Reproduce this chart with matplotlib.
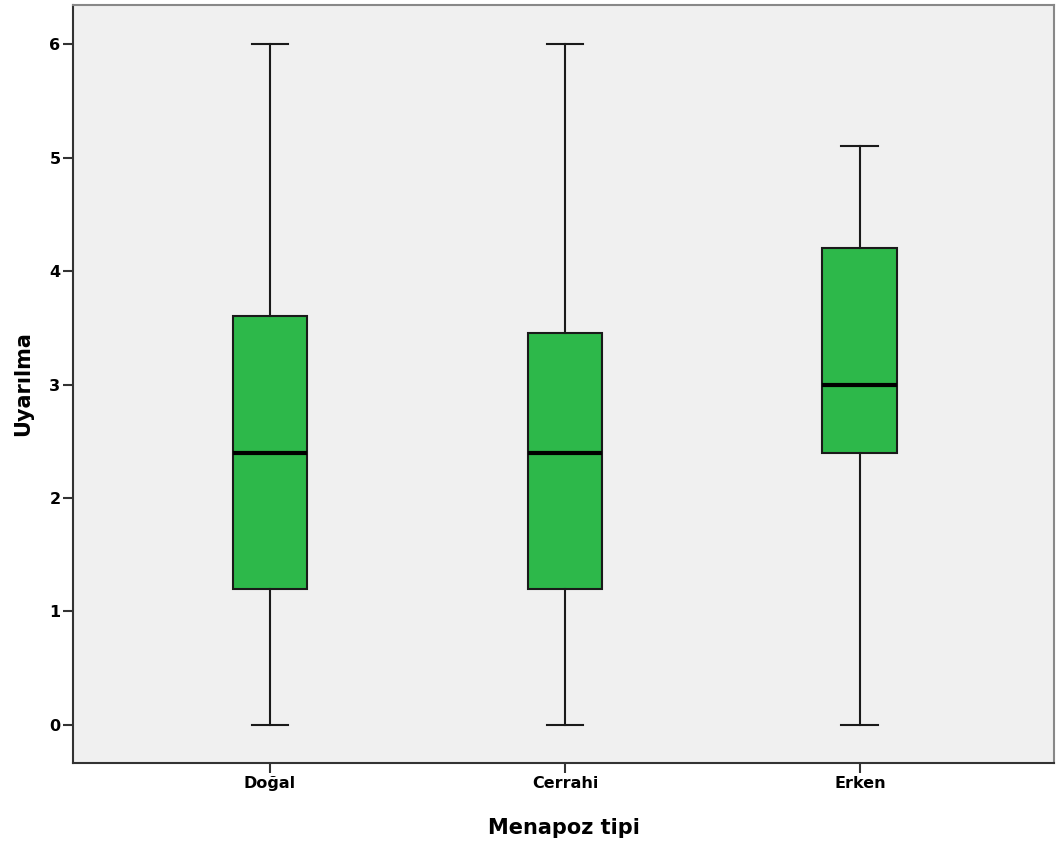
import matplotlib
matplotlib.use("Agg")
import matplotlib.pyplot as plt

categories = ["Doğal", "Cerrahi", "Erken"]
whislo = [0.0, 0.0, 0.0]
q1 = [1.2, 1.2, 2.4]
med = [2.4, 2.4, 3.0]
q3 = [3.6, 3.45, 4.2]
whishi = [6.0, 6.0, 5.1]
yticks = [0, 1, 2, 3, 4, 5, 6]

plt.rcParams['font.family'] = ['DejaVu Sans']

fig = plt.figure(figsize=(10.57, 8.46), dpi=100)
ax = fig.add_axes([73/1057, 83/846, (1054-73)/1057, (763-5)/846])
ax.set_facecolor('#f0f0f0')

stats = [dict(label=c, whislo=a, q1=b, med=m, q3=d, whishi=e, fliers=[])
         for c, a, b, m, d, e in zip(categories, whislo, q1, med, q3, whishi)]
ax.bxp(stats, positions=range(len(categories)), widths=0.254, patch_artist=True,
       showfliers=False,
       boxprops=dict(facecolor='#2db84a', edgecolor='#1a1a1a', linewidth=1.5),
       medianprops=dict(color='black', linewidth=3),
       whiskerprops=dict(color='#1a1a1a', linewidth=1.5),
       capprops=dict(color='#1a1a1a', linewidth=1.5),
       capwidths=0.125)

ax.set_xlim(-0.668, 2.658)
ax.set_ylim(-0.335, 6.344)
ax.set_yticks(yticks)
ax.set_yticklabels([str(t) for t in yticks])
ax.set_xticks(range(len(categories)))
ax.set_xticklabels(categories)
for lab in ax.get_xticklabels() + ax.get_yticklabels():
    lab.set_fontweight('bold')
    lab.set_fontsize(11.5)
ax.tick_params(axis='both', direction='out', length=7, width=1.5, color='#333333', pad=2)

ax.set_ylabel('Uyarılma', fontsize=15, fontweight='bold')
ax.set_xlabel('Menapoz tipi', fontsize=15, fontweight='bold')
ax.yaxis.set_label_coords(-0.041, 0.5)
ax.xaxis.set_label_coords(0.5, -0.073)

for side in ['left', 'bottom']:
    ax.spines[side].set_color('#333333')
    ax.spines[side].set_linewidth(1.5)
for side in ['top', 'right']:
    ax.spines[side].set_color('#888888')
    ax.spines[side].set_linewidth(1.5)

fig.savefig('out.png', dpi=100)
